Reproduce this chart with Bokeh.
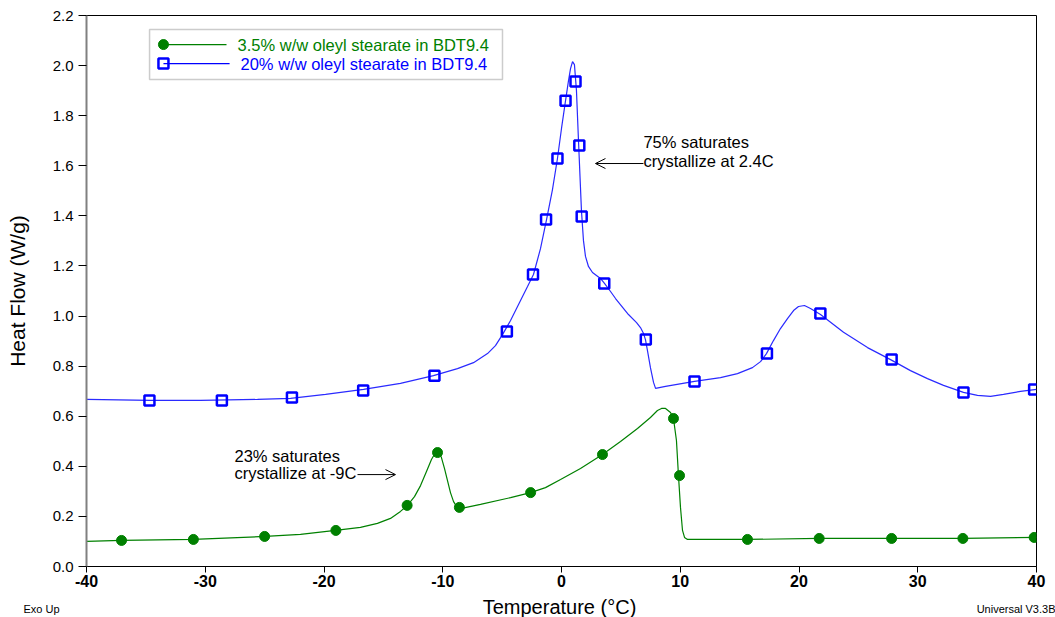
import math

from bokeh.plotting import figure
from bokeh.models import Range1d, FixedTicker, PrintfTickFormatter, Label, Arrow, OpenHead, BoxAnnotation
from bokeh.embed import file_html
from bokeh.resources import INLINE

# ---------------- data ----------------
# DSC trace, 20% w/w oleyl stearate in BDT9.4 (temperature in C, heat flow in W/g)
t_20 = [-40.0, -34.61, -30.4, -25.6, -22.82, -19.87, -16.67, -13.56, -10.78, -8.76, -7.41,
        -6.23, -5.56, -4.97, -4.29, -3.45, -2.86, -2.36, -1.77, -1.26, -0.76, -0.34, 0.0,
        0.34, 0.59, 0.76, 0.93, 1.09, 1.26, 1.43, 1.68, 1.85, 2.02, 2.27, 2.61, 3.28, 3.62,
        4.13, 4.55, 5.64, 6.32, 6.65, 6.91, 7.07, 7.24, 7.49, 7.75, 7.92, 8.34, 8.76, 11.2,
        13.39, 14.82, 16.08, 16.76, 17.26, 17.85, 18.44, 19.03, 19.54, 19.96, 20.46, 20.97,
        21.81, 23.75, 25.77, 27.71, 29.39, 30.82, 32.17, 33.85, 35.03, 36.13, 37.22, 38.65,
        40.0]
hf_20 = [0.667, 0.663, 0.663, 0.667, 0.671, 0.687, 0.707, 0.731, 0.762, 0.790, 0.814,
         0.850, 0.882, 0.926, 0.982, 1.062, 1.118, 1.166, 1.269, 1.385, 1.505, 1.629, 1.749,
         1.860, 1.940, 1.988, 2.016, 2.004, 1.900, 1.701, 1.421, 1.301, 1.238, 1.198, 1.174,
         1.150, 1.130, 1.098, 1.070, 1.006, 0.974, 0.954, 0.930, 0.906, 0.862, 0.794, 0.735,
         0.711, 0.715, 0.719, 0.739, 0.754, 0.770, 0.794, 0.818, 0.850, 0.902, 0.950, 0.990,
         1.022, 1.038, 1.042, 1.030, 1.006, 0.935, 0.874, 0.826, 0.782, 0.750, 0.723, 0.695,
         0.683, 0.679, 0.687, 0.699, 0.707]

# symbols placed along the 20% trace
t_20_pts = [-34.7, -28.6, -22.7, -16.7, -10.7, -4.6, -2.4, -1.3, -0.34, 0.34, 1.18, 1.5,
            1.7, 3.6, 7.1, 11.2, 17.3, 21.8, 27.8, 33.85, 39.8]
hf_20_pts = [0.663, 0.663, 0.675, 0.703, 0.762, 0.938, 1.166, 1.385, 1.629, 1.860, 1.936,
             1.681, 1.397, 1.130, 0.906, 0.739, 0.850, 1.010, 0.826, 0.695, 0.707]

# DSC trace, 3.5% w/w oleyl stearate in BDT9.4
t_35 = [-40.0, -37.05, -31.0, -24.93, -21.98, -19.03, -16.93, -15.5, -14.4, -13.56, -12.97,
        -12.38, -11.87, -11.37, -10.95, -10.61, -10.36, -10.11, -9.85, -9.6, -9.35, -9.09,
        -8.84, -8.42, -6.82, -4.29, -2.61, -1.35, -0.08, 1.6, 3.45, 4.97, 6.4, 7.49, 8.08,
        8.42, 8.76, 9.18, 9.43, 9.68, 9.85, 10.02, 10.19, 10.36, 10.61, 15.66, 21.73, 27.79,
        33.77, 40.0]
hf_35 = [0.100, 0.104, 0.108, 0.120, 0.128, 0.144, 0.156, 0.172, 0.192, 0.220, 0.244,
         0.279, 0.323, 0.379, 0.427, 0.455, 0.459, 0.435, 0.391, 0.343, 0.295, 0.259,
         0.240, 0.232, 0.248, 0.275, 0.295, 0.315, 0.347, 0.391, 0.447, 0.499, 0.551, 0.595, 0.623,
         0.631, 0.631, 0.615, 0.591, 0.503, 0.363, 0.236, 0.144, 0.116, 0.108, 0.108, 0.112, 0.112,
         0.112, 0.116]

# symbols placed along the 3.5% trace
t_35_pts = [-37.05, -31.0, -25.0, -19.0, -13.0, -10.44, -8.6, -2.6, 3.45, 9.43, 9.94,
            15.66, 21.7, 27.8, 33.8, 39.8]
hf_35_pts = [0.104, 0.108, 0.120, 0.144, 0.244, 0.455, 0.236, 0.295, 0.447, 0.591, 0.363,
             0.108, 0.112, 0.112, 0.112, 0.116]

x_ticks = [-40, -30, -20, -10, 0, 10, 20, 30, 40]
y_ticks = [0.0, 0.2, 0.4, 0.6, 0.8, 1.0, 1.2, 1.4, 1.6, 1.8, 2.0, 2.2]

series_names = ["3.5% w/w oleyl stearate in BDT9.4", "20% w/w oleyl stearate in BDT9.4"]

GREEN = "#008000"
BLUE = "#0000ff"
FONT = "Liberation Sans"

# ---------------- main plot ----------------
p = figure(width=1055, height=595, output_backend="svg", toolbar_location=None,
           x_range=Range1d(-40, 40), y_range=Range1d(0, 2.2),
           min_border_left=86, min_border_right=19, min_border_top=15, min_border_bottom=29)
p.grid.visible = False
p.background_fill_color = "white"
p.border_fill_color = "white"
p.outline_line_color = "black"
p.outline_line_width = 1

xa = p.xaxis[0]
xa.ticker = FixedTicker(ticks=x_ticks)
xa.formatter = PrintfTickFormatter(format="%d")
xa.axis_line_color = "black"
xa.major_tick_in = 0
xa.major_tick_out = 6
xa.minor_tick_in = 0
xa.minor_tick_out = 0
xa.major_tick_line_color = "black"
xa.major_label_text_font = FONT
xa.major_label_text_font_size = "16px"
xa.major_label_text_font_style = "bold"
xa.major_label_text_color = "black"
xa.major_label_standoff = 2

ya = p.yaxis[0]
ya.ticker = FixedTicker(ticks=y_ticks)
ya.formatter = PrintfTickFormatter(format="%.1f")
ya.axis_line_color = "#808080"
ya.axis_line_width = 2
ya.major_tick_in = 0
ya.major_tick_out = 8
ya.minor_tick_in = 0
ya.minor_tick_out = 0
ya.major_tick_line_color = "black"
ya.major_label_text_font = FONT
ya.major_label_text_font_size = "15px"
ya.major_label_text_color = "black"
ya.major_label_standoff = 5
ya.axis_label = "Heat Flow (W/g)"
ya.axis_label_text_font = FONT
ya.axis_label_text_font_size = "21px"
ya.axis_label_text_font_style = "normal"
ya.axis_label_text_color = "black"
ya.axis_label_standoff = 21

# traces
p.line(t_20, hf_20, line_color="#2a2aff", line_width=1.2)
p.scatter(t_20_pts, hf_20_pts, marker="square", size=10, line_color=BLUE,
          line_width=2.5, fill_alpha=0)

p.line(t_35, hf_35, line_color=GREEN, line_width=1.2)
p.scatter(t_35_pts, hf_35_pts, marker="circle", size=10, line_color=GREEN,
          fill_color=GREEN, line_width=1)

# legend box
box = BoxAnnotation(left=-34.69, right=-4.97, bottom=1.944, top=2.144,
                    fill_color="white", fill_alpha=1, line_color="#555555", line_width=1.5,
                    level="underlay")
p.add_layout(box)

p.line([-33.52, -28.21], [2.084, 2.084], line_color=GREEN, line_width=1.2)
p.scatter([-33.52], [2.084], marker="circle", size=10, line_color=GREEN, fill_color=GREEN)
p.line([-33.52, -27.95], [2.008, 2.008], line_color=BLUE, line_width=1.2)
p.scatter([-33.52], [2.008], marker="square", size=10, line_color=BLUE, line_width=2.5,
          fill_alpha=0)

p.add_layout(Label(x=-27.28, y=2.084, text=series_names[0], text_font=FONT,
                   text_font_size="16.5px", text_color=GREEN, text_baseline="middle"))
p.add_layout(Label(x=-27.03, y=2.008, text=series_names[1], text_font=FONT,
                   text_font_size="16.5px", text_color=BLUE, text_baseline="middle"))

# annotations
for txt, yy in [("75% saturates", 1.693), ("crystallize at 2.4C", 1.621)]:
    p.add_layout(Label(x=6.9, y=yy, text=txt, text_font=FONT, text_font_size="16.5px",
                       text_color="black", text_baseline="alphabetic"))
for txt, yy in [("23% saturates", 0.443), ("crystallize at -9C", 0.375)]:
    p.add_layout(Label(x=-27.54, y=yy, text=txt, text_font=FONT, text_font_size="16.5px",
                       text_color="black", text_baseline="alphabetic"))

p.add_layout(Arrow(end=OpenHead(size=10, line_width=1, line_color="black"),
                   x_start=6.9, y_start=1.609, x_end=2.86, y_end=1.609,
                   line_color="black", line_width=1))
p.add_layout(Arrow(end=OpenHead(size=10, line_width=1, line_color="black"),
                   x_start=-17.18, y_start=0.367, x_end=-13.98, y_end=0.367,
                   line_color="black", line_width=1))

# ---------------- footer strip: axis title and instrument notes ----------------
# pixel-space strip: x 0..1055 left to right, y 0..22 top to bottom
foot = figure(width=1055, height=22, output_backend="svg", toolbar_location=None,
              x_range=Range1d(0, 1055), y_range=Range1d(22, 0),
              x_axis_type=None, y_axis_type=None, min_border=0)
foot.grid.visible = False
foot.outline_line_color = None
foot.background_fill_color = "white"
foot.border_fill_color = "white"

foot.add_layout(Label(x=559, y=11, text="Temperature (°C)", text_font=FONT,
                      text_font_size="20px", text_color="black",
                      text_align="center", text_baseline="middle"))
foot.add_layout(Label(x=23, y=13, text="Exo Up", text_font=FONT, text_font_size="11px",
                      text_color="black", text_baseline="alphabetic"))
foot.add_layout(Label(x=1055, y=13, text="Universal V3.3B", text_font=FONT,
                      text_font_size="11px", text_color="black", text_align="right",
                      text_baseline="alphabetic"))

# two independent roots, stacked one under the other on the page
open("out.html", "w").write(file_html([p, foot], INLINE))
